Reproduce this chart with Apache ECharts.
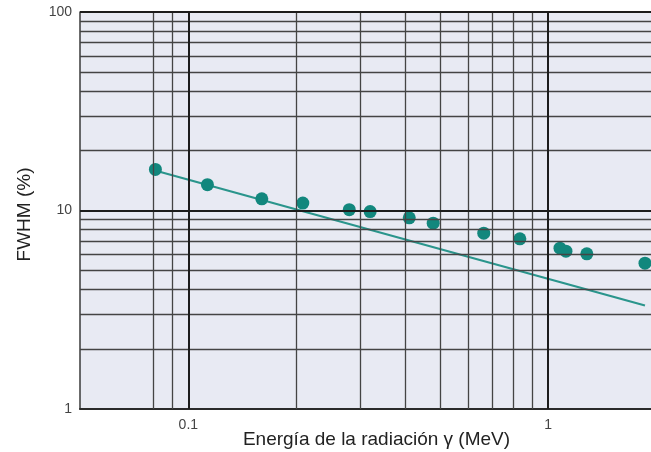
<!DOCTYPE html>
<html>
<head>
<meta charset="utf-8">
<script src="https://cdn.jsdelivr.net/npm/echarts@6/dist/echarts.min.js"></script>
<style>
html,body{margin:0;padding:0;background:#fff;}
#c{width:651px;height:452px;}
</style>
</head>
<body>
<div id="c"></div>
<script>
// Measured points: gamma energy (MeV) and FWHM (%)
var energy = [0.081, 0.113, 0.16, 0.208, 0.28, 0.32, 0.411, 0.479, 0.662, 0.834, 1.078, 1.12, 1.28, 1.857];
var fwhm   = [16.1, 13.5, 11.45, 10.9, 10.1, 9.88, 9.19, 8.63, 7.69, 7.2, 6.46, 6.24, 6.05, 5.43];
// Fitted trend line end points
var fitEnergy = [0.0808, 1.857];
var fitFwhm   = [15.9, 3.32];
// Grid lines
var xGridMinor = [0.08, 0.09, 0.2, 0.3, 0.4, 0.5, 0.6, 0.7, 0.8, 0.9];
var xGridMajor = [0.1, 1];
var yGridMinor = [2, 3, 4, 5, 6, 7, 8, 9, 20, 30, 40, 50, 60, 70, 80, 90];
var yGridMajor = [10, 100];
// Tick labels
var xTickLabels = [0.1, 1];
var yTickLabels = [1, 10, 100];

function matchLabel(list, v) {
  for (var i = 0; i < list.length; i++) {
    if (Math.abs(Math.log10(v) - Math.log10(list[i])) < 1e-6) return String(list[i]);
  }
  return '';
}

var minorStyle = {color: '#444444', width: 1.3, type: 'solid'};
var majorStyle = {color: '#1c1c1c', width: 2, type: 'solid'};

var gridLines = [];
xGridMinor.forEach(function (v) { gridLines.push({xAxis: v, lineStyle: minorStyle}); });
yGridMinor.forEach(function (v) { gridLines.push({yAxis: v, lineStyle: minorStyle}); });
xGridMajor.forEach(function (v) { gridLines.push({xAxis: v, lineStyle: majorStyle}); });
yGridMajor.forEach(function (v) { gridLines.push({yAxis: v, lineStyle: majorStyle}); });

var chart = echarts.init(document.getElementById('c'), null, {renderer: 'canvas'});
chart.setOption({
  animation: false,
  backgroundColor: '#ffffff',
  textStyle: {fontFamily: 'Liberation Sans, Arial, sans-serif'},
  grid: {
    left: 80, top: 12, right: 0, bottom: 43,
    outerBoundsMode: 'none',
    containLabel: false,
    show: true, backgroundColor: '#e8eaf3', borderWidth: 0
  },
  xAxis: {
    type: 'log', logBase: 10, min: 0.05, max: 1.93,
    name: 'Energía de la radiación γ (MeV)',
    nameLocation: 'middle', nameGap: 21,
    nameMoveOverlap: false,
    nameTextStyle: {fontSize: 19, color: '#222', padding: [0, 0, 0, 22]},
    axisLine: {show: true, lineStyle: {color: '#2a2a2a', width: 2}},
    axisTick: {show: false},
    splitLine: {show: false},
    minorSplitLine: {show: false},
    axisLabel: {
      fontSize: 14, color: '#444', margin: 9,
      showMinLabel: false, showMaxLabel: false,
      formatter: function (v) { return matchLabel(xTickLabels, v); }
    }
  },
  yAxis: {
    type: 'log', logBase: 10, min: 1, max: 100,
    name: 'FWHM (%)',
    nameLocation: 'middle', nameGap: 46,
    nameMoveOverlap: false,
    nameTextStyle: {fontSize: 19, color: '#222', padding: [0, 8, 0, 0]},
    axisLine: {show: true, lineStyle: {color: '#3a3a3a', width: 1.5}},
    axisTick: {show: false},
    splitLine: {show: false},
    axisLabel: {
      fontSize: 14, color: '#444', margin: 8,
      formatter: function (v) { return matchLabel(yTickLabels, v); }
    }
  },
  series: [
    {
      name: 'grid', type: 'line', data: [], z: 1, silent: true,
      markLine: {
        silent: true, symbol: 'none', animation: false,
        label: {show: false},
        data: gridLines
      }
    },
    {
      name: 'ajuste', type: 'line', z: 3, symbol: 'none',
      data: fitEnergy.map(function (e, i) { return [e, fitFwhm[i]]; }),
      lineStyle: {color: '#2a958c', width: 2.2}
    },
    {
      name: 'FWHM', type: 'scatter', z: 4,
      symbolSize: 13,
      itemStyle: {color: '#12877d', opacity: 1},
      data: energy.map(function (e, i) { return [e, fwhm[i]]; })
    }
  ]
});
</script>
</body>
</html>
